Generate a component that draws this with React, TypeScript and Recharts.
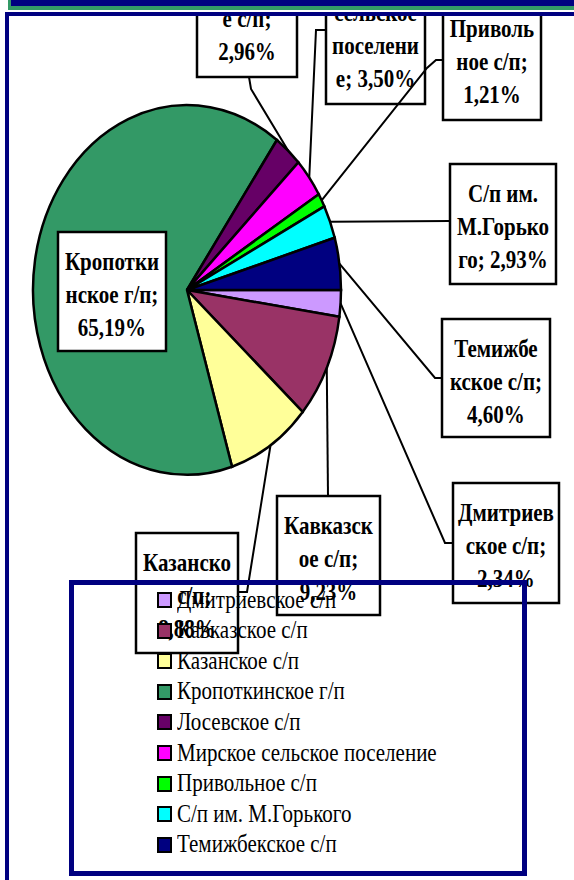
import React from 'react';
import { PieChart, Pie, Cell, Legend } from 'recharts';

const names = [
  'Дмитриевское с/п',
  'Кавказское с/п',
  'Казанское с/п',
  'Кропоткинское г/п',
  'Лосевское с/п',
  'Мирское сельское поселение',
  'Привольное с/п',
  'С/п им. М.Горького',
  'Темижбекское с/п',
];
const shares = [2.34, 9.23, 8.88, 65.19, 2.96, 3.5, 1.21, 2.93, 4.6];
const colors = ['#CC99FF', '#993366', '#FFFF99', '#339966', '#660066', '#FF00FF', '#00FF00', '#00FFFF', '#000080'];

// label text wrapped the way the slide has it, {v} = the share
const labelLines = [
  ['Дмитриев', 'ское с/п;', '{v}'],
  ['Кавказск', 'ое с/п;', '{v}'],
  ['Казанско', 'е с/п;', '{v}'],
  ['Кропотки', 'нское г/п;', '{v}'],
  ['Лосевско', 'е с/п;', '{v}'],
  ['Мирское', 'сельское', 'поселени', 'е; {v}'],
  ['Приволь', 'ное с/п;', '{v}'],
  ['С/п им.', 'М.Горько', 'го; {v}'],
  ['Темижбе', 'кское с/п;', '{v}'],
];

const data = names.map((name, i) => ({ name, value: shares[i] }));

const NAVY = '#000080';
const SY = 1.2; // slide is stretched vertically, pie drawn as ellipse
const CX = 187;
const CY = 290;
const R = 154;
const LINE_H = 33;

// label boxes were dragged by hand on the slide: [x, y, w, h] + leader elbows
const labelLayout: { box: number[]; leader: number[][] }[] = [
  { box: [453, 483, 106, 120], leader: [[445, 543], [453, 543]] },
  { box: [277, 496, 103, 119], leader: [[328, 496]] },
  { box: [136, 533, 102, 120], leader: [[247, 592], [238, 592]] },
  { box: [58, 232, 108, 119], leader: [] },
  { box: [197, -44, 100, 121], leader: [[251, 89], [249, 77]] },
  { box: [326, -50, 99, 154], leader: [[316, 30], [326, 30]] },
  { box: [443, -1, 98, 121], leader: [[427, 68], [436, 60], [443, 60]] },
  { box: [450, 164, 106, 120], leader: [[450, 221]] },
  { box: [442, 319, 108, 118], leader: [[435, 378], [442, 378]] },
];

const fmt = (v: number) => v.toFixed(2).replace('.', ',') + '%';

const renderLabel = (props: any) => {
  const { cx, cy, midAngle, outerRadius, index } = props;
  const rad = Math.PI / 180;
  const ax = cx + outerRadius * Math.cos(-midAngle * rad);
  const ay = cy + outerRadius * SY * Math.sin(-midAngle * rad);
  const lay = labelLayout[index];
  const [bx, by, bw, bh] = lay.box;
  const pts = [[ax, ay], ...lay.leader];
  const lines = labelLines[index].map((l) => l.replace('{v}', fmt(shares[index])));
  return (
    <g key={`lbl-${index}`}>
      {lay.leader.length > 0 && (
        <polyline
          points={pts.map((p) => p.join(',')).join(' ')}
          fill="none"
          stroke="#000"
          strokeWidth={2}
        />
      )}
      <rect x={bx} y={by} width={bw} height={bh} fill="#fff" stroke="#000" strokeWidth={2.5} />
      {lines.map((t, j) => {
        const ty = by + 29 + j * LINE_H;
        return (
          <text
            key={j}
            x={bx + bw / 2}
            y={ty}
            transform={`matrix(1 0 0 ${SY} 0 ${ty * (1 - SY)})`}
            textAnchor="middle"
            dominantBaseline="central"
            fontFamily="'Liberation Serif', serif"
            fontWeight="bold"
            fontSize={21}
            fill="#000"
          >
            {t}
          </text>
        );
      })}
    </g>
  );
};

const renderLegend = (props: any) => {
  const { payload } = props;
  return (
    <div style={{ position: 'relative', width: '100%', height: '100%' }}>
      {(payload || []).map((entry: any, i: number) => (
        <div
          key={i}
          style={{
            position: 'absolute',
            left: 83,
            top: 15 + i * 30.6 - 14,
            height: 28,
            display: 'flex',
            alignItems: 'center',
            whiteSpace: 'nowrap',
          }}
        >
          <span
            style={{
              display: 'inline-block',
              width: 11,
              height: 12,
              background: colors[i],
              border: '2px solid #000',
            }}
          />
          <span
            style={{
              display: 'inline-block',
              marginLeft: 5,
              fontFamily: "'Liberation Serif', serif",
              fontSize: 21,
              color: '#000',
              transform: `scaleY(${SY})`,
            }}
          >
            {entry.value}
          </span>
        </div>
      ))}
    </div>
  );
};

export default function App() {
  return (
    <div style={{ position: 'relative', width: 574, height: 880, overflow: 'hidden', background: '#fff' }}>
      <style>{`
        body { margin: 0; }
        .pie-ellipse .recharts-sector {
          transform: scale(1, ${SY});
          transform-origin: ${CX}px ${CY}px;
          vector-effect: non-scaling-stroke;
        }
      `}</style>
      <div style={{ position: 'absolute', left: 11, top: 0, width: 563, height: 6, background: NAVY }} />
      <div style={{ position: 'absolute', left: 8, top: 0, width: 3, height: 10, background: '#339966' }} />
      <div style={{ position: 'absolute', left: 8, top: 6, width: 566, height: 4, background: '#339966' }} />
      <div
        style={{
          position: 'absolute',
          left: 5,
          top: 12,
          width: 600,
          height: 900,
          borderLeft: `4px solid ${NAVY}`,
          borderTop: `4px solid ${NAVY}`,
        }}
      />
      <div style={{ position: 'absolute', left: 9, top: 16, width: 565, height: 864, overflow: 'hidden' }}>
        <div style={{ position: 'absolute', left: -9, top: -16 }}>
          <PieChart width={574} height={880} margin={{ top: 0, right: 0, bottom: 0, left: 0 }}>
            <Pie
              className="pie-ellipse"
              data={data}
              dataKey="value"
              nameKey="name"
              cx={CX}
              cy={CY}
              outerRadius={R}
              startAngle={0}
              endAngle={-360}
              stroke="#000"
              strokeWidth={2.5}
              label={renderLabel}
              labelLine={false}
              isAnimationActive={false}
            >
              {data.map((d, i) => (
                <Cell key={d.name} fill={colors[i]} />
              ))}
            </Pie>
            <Legend
              content={renderLegend}
              verticalAlign="bottom"
              wrapperStyle={{
                position: 'absolute',
                left: 69,
                top: 580,
                width: 458,
                height: 296,
                border: `5px solid ${NAVY}`,
                boxSizing: 'border-box',
                background: 'transparent',
              }}
            />
          </PieChart>
        </div>
      </div>
    </div>
  );
}
